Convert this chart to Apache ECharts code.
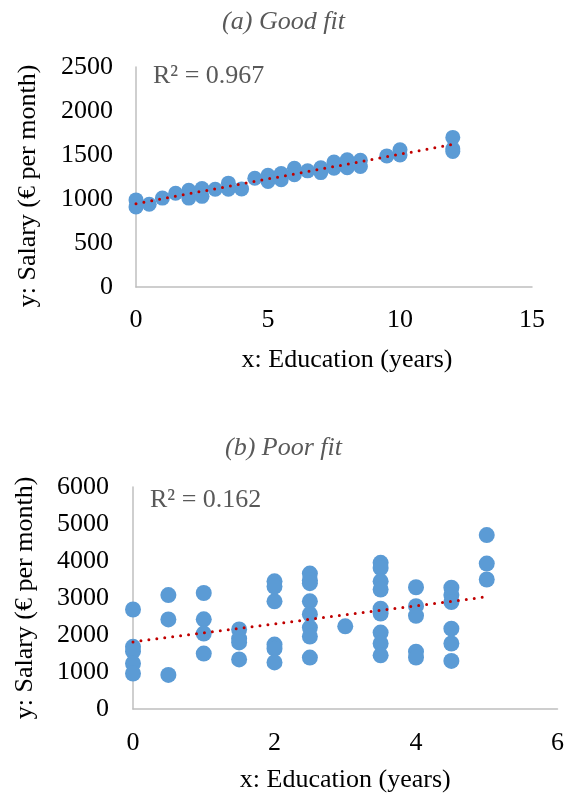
<!DOCTYPE html>
<html>
<head>
<meta charset="utf-8">
<script src="https://cdn.jsdelivr.net/npm/echarts@6/dist/echarts.min.js"></script>
<style>
  html, body { margin: 0; padding: 0; background: #ffffff; }
  #chart { width: 567px; height: 795px; }
</style>
</head>
<body>
<div id="chart"></div>
<script>
// Panel (a): education vs salary, strong linear relation
const eduA = [0, 0, 0.5, 1, 1.5, 2, 2, 2.5, 2.5, 3, 3.5, 3.5, 4, 4.5, 5, 5, 5.5, 5.5, 6, 6,
              6.5, 7, 7, 7.5, 7.5, 8, 8, 8.5, 8.5, 9.5, 10, 10, 12, 12, 12];
const salA = [990, 910, 940, 1010, 1065, 1100, 1010, 1120, 1030, 1110, 1180, 1110, 1115, 1235, 1270, 1200, 1290, 1220, 1350, 1275,
              1320, 1355, 1300, 1420, 1350, 1445, 1355, 1440, 1370, 1490, 1560, 1500, 1700, 1570, 1540];

// Panel (b): education vs salary, weak relation
const eduB = [0, 0, 0, 0, 0,
              0.5, 0.5, 0.5,
              1, 1, 1, 1,
              1.5, 1.5, 1.5, 1.5,
              2, 2, 2, 2, 2, 2,
              2.5, 2.5, 2.5, 2.5, 2.5, 2.5, 2.5, 2.5,
              3,
              3.5, 3.5, 3.5, 3.5, 3.5, 3.5, 3.5, 3.5, 3.5,
              4, 4, 4, 4, 4,
              4.5, 4.5, 4.5, 4.5, 4.5, 4.5,
              5, 5, 5];
const salB = [2690, 1680, 1560, 1230, 960,
              3080, 2420, 920,
              3135, 2424, 2038, 1497,
              2150, 1900, 1800, 1340,
              3450, 3310, 2911, 1740, 1630, 1260,
              3660, 3480, 3400, 2910, 2560, 2200, 1960, 1390,
              2235,
              3950, 3810, 3450, 3230, 2710, 2580, 2065, 1770, 1450,
              3290, 2780, 2520, 1550, 1390,
              3280, 3080, 2890, 2170, 1770, 1300,
              4700, 3930, 3500];

const titleA = '(a) Good fit';
const titleB = '(b) Poor fit';
const r2TextA = 'R² = 0.967';
const r2TextB = 'R² = 0.162';
const xName = 'x: Education (years)';
const yName = 'y: Salary (€ per month)';

// Least-squares trend line over the observed x range
function trend(xs, ys) {
  const n = xs.length;
  let sx = 0, sy = 0, sxx = 0, sxy = 0;
  for (let i = 0; i < n; i++) {
    sx += xs[i]; sy += ys[i]; sxx += xs[i] * xs[i]; sxy += xs[i] * ys[i];
  }
  const b = (n * sxy - sx * sy) / (n * sxx - sx * sx);
  const a = (sy - b * sx) / n;
  const lo = Math.min(...xs), hi = Math.max(...xs);
  return [[lo, a + b * lo], [hi, a + b * hi]];
}

const pairs = (xs, ys) => xs.map((x, i) => [x, ys[i]]);

const FONT = 'Liberation Serif';
const axisLineStyle = { lineStyle: { color: '#bfbfbf', width: 1.5 } };
const plainNumber = v => String(v);
const labelStyle = { color: '#000000', fontFamily: FONT, fontSize: 26, formatter: plainNumber };
const nameStyle = { color: '#000000', fontFamily: FONT, fontSize: 26 };
const pointColor = '#5b9bd5';
const trendStyle = { color: '#c00000', width: 3, type: [0, 8], cap: 'round' };

const chart = echarts.init(document.getElementById('chart'), null, { renderer: 'canvas' });

chart.setOption({
  animation: false,
  backgroundColor: '#ffffff',
  title: [
    { text: titleA, left: 'center', top: 4,
      textStyle: { fontFamily: FONT, fontStyle: 'italic', fontWeight: 'normal', fontSize: 26, color: '#595959' } },
    { text: titleB, left: 'center', top: 430,
      textStyle: { fontFamily: FONT, fontStyle: 'italic', fontWeight: 'normal', fontSize: 26, color: '#595959' } }
  ],
  graphic: [
    { type: 'text', left: 153, top: 63,
      style: { text: r2TextA, fill: '#595959', font: '26px "Liberation Serif"' } },
    { type: 'text', left: 150, top: 487,
      style: { text: r2TextB, fill: '#595959', font: '26px "Liberation Serif"' } }
  ],
  grid: [
    { left: 136, top: 67, width: 396, height: 220 },
    { left: 133, top: 487, width: 426, height: 222 }
  ],
  xAxis: [
    { gridIndex: 0, type: 'value', min: 0, max: 15, interval: 5,
      axisLine: axisLineStyle, axisTick: { show: false }, splitLine: { show: false },
      axisLabel: Object.assign({ margin: 20 }, labelStyle),
      name: xName, nameLocation: 'middle', nameGap: 60,
      nameTextStyle: Object.assign({ padding: [0, 0, 0, 26] }, nameStyle) },
    { gridIndex: 1, type: 'value', min: 0, max: 6, interval: 2,
      axisLine: axisLineStyle, axisTick: { show: false }, splitLine: { show: false },
      axisLabel: Object.assign({ margin: 21 }, labelStyle),
      name: xName, nameLocation: 'middle', nameGap: 58, nameTextStyle: nameStyle }
  ],
  yAxis: [
    { gridIndex: 0, type: 'value', min: 0, max: 2500, interval: 500,
      axisLine: Object.assign({ show: true }, axisLineStyle), axisTick: { show: false }, splitLine: { show: false },
      axisLabel: Object.assign({ margin: 23 }, labelStyle),
      name: yName, nameLocation: 'middle', nameGap: 95,
      nameTextStyle: Object.assign({ padding: [0, 18, 0, 0] }, nameStyle) },
    { gridIndex: 1, type: 'value', min: 0, max: 6000, interval: 1000,
      axisLine: Object.assign({ show: true }, axisLineStyle), axisTick: { show: false }, splitLine: { show: false },
      axisLabel: Object.assign({ margin: 24 }, labelStyle),
      name: yName, nameLocation: 'middle', nameGap: 95, nameTextStyle: nameStyle }
  ],
  series: [
    { type: 'scatter', xAxisIndex: 0, yAxisIndex: 0, data: pairs(eduA, salA),
      symbolSize: 15, itemStyle: { color: pointColor, opacity: 1 }, z: 2 },
    { type: 'line', xAxisIndex: 0, yAxisIndex: 0, data: trend(eduA, salA),
      symbol: 'none', lineStyle: trendStyle, z: 3 },
    { type: 'scatter', xAxisIndex: 1, yAxisIndex: 1, data: pairs(eduB, salB),
      symbolSize: 16, itemStyle: { color: pointColor, opacity: 1 }, z: 2 },
    { type: 'line', xAxisIndex: 1, yAxisIndex: 1, data: trend(eduB, salB),
      symbol: 'none', lineStyle: trendStyle, z: 3 }
  ]
});
</script>
</body>
</html>
